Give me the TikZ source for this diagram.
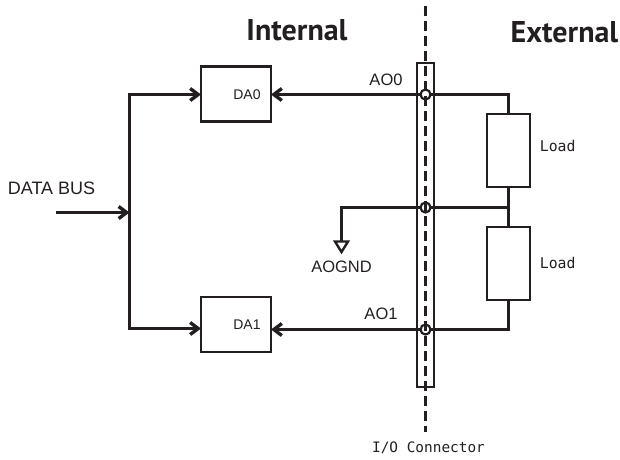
\documentclass[tikz,border=0pt]{standalone}
\usepackage{fontspec}
\setmainfont{Liberation Sans}
\newfontfamily\headfont{PT Sans}
\newfontfamily\monofont{DejaVu Sans Mono}
\usetikzlibrary{arrows.meta}
\definecolor{ink}{HTML}{231F20}
\tikzset{
  x=1pt,y=-1pt,
  every path/.style={draw=ink,line width=2.8pt},
  boxnode/.style={draw=ink,line width=2.8pt,fill=white,rectangle,inner sep=0pt,outer sep=0pt,minimum width=#1},
  dabox/.style={boxnode=70pt,minimum height=55pt},
  loadbox/.style={boxnode=43pt,minimum height=73pt},
  termnode/.style={circle,draw=ink,line width=2.2pt,inner sep=0pt,outer sep=0pt,minimum size=10pt},
  txt/.style={inner sep=0pt,text=ink,font=\fontsize{16.5}{19}\selectfont},
  datxt/.style={inner sep=0pt,text=ink,font=\fontsize{14}{16}\selectfont},
  monotxt/.style={inner sep=0pt,text=ink,font=\monofont\fontsize{14.8}{16}\selectfont},
  iotxt/.style={inner sep=0pt,text=ink,font=\monofont\fontsize{14.4}{16}\selectfont},
  headtxt/.style={inner sep=0pt,text=ink,font=\headfont\bfseries\fontsize{30}{32}\selectfont},
  sig/.style={-{Straight Barb[length=8pt,width=12pt,line width=3.4pt]}},
  wire/.style={line width=2.8pt},
  dash line/.style={line width=2.8pt,dash pattern=on 9.5pt off 5.5pt},
}
\begin{document}
\begin{tikzpicture}
\useasboundingbox[draw=none] (0,0) rectangle (620,459);
% connector strip
\node[draw=ink,line width=2.8pt,rectangle,minimum width=17pt,minimum height=324pt,inner sep=0pt,outer sep=0pt] (strip) at (425.5,225) {};
\coordinate (dashtop) at (425.5,6);
\coordinate (dashbot) at (425.5,432);
\draw[dash line] (dashtop) -- (dashbot);
% terminals
\node[termnode] (t0) at (425.5,94.5) {};
\node[termnode] (tg) at (425.5,207.5) {};
\node[termnode] (t1) at (425.5,329.5) {};
% DA boxes
\node[dabox] (da0) at (236,94) {};
\node[dabox] (da1) at (236,324.5) {};
\node[datxt] (da0t) at (247,95) {DA0};
\node[datxt] (da1t) at (247,325) {DA1};
% load boxes
\node[loadbox] (l0) at (508.5,150.5) {};
\node[loadbox] (l1) at (508.5,263.5) {};
% bus
\coordinate (bustop) at (129.5,94.5);
\coordinate (busbot) at (129.5,328.5);
\coordinate (busin) at (129.5,212.5);
\coordinate (datastart) at (56,212.5);
\coordinate (da0in) at (da0.west |- bustop);
\coordinate (da1in) at (da1.west |- busbot);
\draw[wire,sig] (bustop) -- (da0in);
\draw[wire,sig] (busbot) -- (da1in);
\draw[wire,line cap=rect] (bustop) -- (busbot);
\draw[wire,sig] (datastart) -- (busin);
% outputs
\draw[wire,sig] (t0.west) -- (t0.west -| da0.east);
\coordinate (a1) at (t1.west -| da1.east);
\draw[wire,sig] (t1.west) -- (a1);
% external wires
\draw[wire] (t0.east) -| (l0.north);
\draw[wire] (t1.east) -| (l1.south);
\draw[wire] (l0.south) -- (l1.north);
\draw[wire] (tg.east) -- (tg.east -| l0.south);
% ground
\coordinate (gndtop) at (341.5,241);
\node[draw=none,inner sep=0pt,minimum size=0pt] (gl) at (341.5,252) {};
\draw[wire] (tg.west) -| (gndtop);
\draw[line width=2.4pt,line join=miter] (335,241.5) -- (348,241.5) -- (gl.center) -- cycle;
% labels
\node[headtxt] (intl) at (297,30) {Internal};
\node[headtxt] (extl) at (564.5,32) {External};
\node[txt,anchor=west,font=\fontsize{18}{20}\selectfont] (databus) at (6.5,188.5) {DATA BUS};
\node[txt] (ao0) at (386,80) {AO0};
\node[txt] (ao1) at (381,314) {AO1};
\node[txt] (aognd) at (341.5,266.5) {AOGND};
\node[monotxt,anchor=west] (load0) at (538.5,146) {Load};
\node[monotxt,anchor=west] (load1) at (538.5,263) {Load};
\node[iotxt] (ioc) at (428.5,447.5) {I/O Connector};
\end{tikzpicture}
\end{document}
